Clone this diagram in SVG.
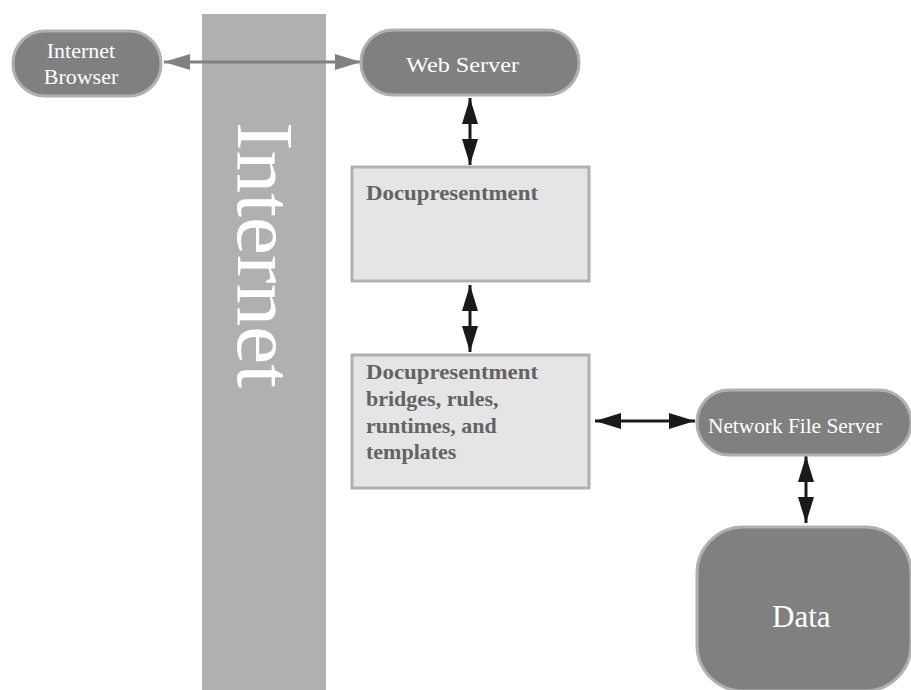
<svg xmlns="http://www.w3.org/2000/svg" width="911" height="690" viewBox="0 0 911 690">
<style>
text{font-family:"Liberation Serif","Times New Roman",serif}
.pill{fill:#808080;stroke:#b0b0b0;stroke-width:3}
.box{fill:#e5e5e5;stroke:#b0b0b0;stroke-width:3}
.w{fill:#fff;font-size:22px}
.d{fill:#636363;font-size:22px;font-weight:bold}
.k{stroke:#1a1a1a;stroke-width:3;fill:none;marker-start:url(#ka);marker-end:url(#ka)}
.g{stroke:#808080;stroke-width:3;fill:none;marker-start:url(#ga);marker-end:url(#ga)}
</style>
<defs>
<marker id="ka" markerUnits="userSpaceOnUse" viewBox="0 0 26 16" refX="26" refY="8" markerWidth="26" markerHeight="16" orient="auto-start-reverse"><path d="M0 0L26 8L0 16Z" fill="#1a1a1a"/></marker>
<marker id="ga" markerUnits="userSpaceOnUse" viewBox="0 0 26 16" refX="26" refY="8" markerWidth="26" markerHeight="16" orient="auto-start-reverse"><path d="M0 0L26 8L0 16Z" fill="#808080"/></marker>
</defs>
<g id="internet-band">
<rect x="202" y="14" width="124" height="676" fill="#b0b0b0"/>
<text transform="translate(238,122) rotate(90)" fill="#fff" font-size="80" textLength="266" lengthAdjust="spacingAndGlyphs">Internet</text>
</g>
<g id="connectors">
<path class="g" d="M164 62H361"/>
<path class="k" d="M470 98V165"/>
<path class="k" d="M470 285V352"/>
<path class="k" d="M595 421H695"/>
<path class="k" d="M806 456V523"/>
</g>
<g id="internet-browser">
<rect class="pill" x="13" y="31" width="148" height="65" rx="32"/>
<text class="w" x="81" y="58" text-anchor="middle">Internet</text>
<text class="w" x="81" y="84" text-anchor="middle">Browser</text>
</g>
<g id="web-server">
<rect class="pill" x="361" y="30" width="218" height="65" rx="32"/>
<text class="w" x="406" y="72" textLength="113" lengthAdjust="spacingAndGlyphs">Web Server</text>
</g>
<g id="docupresentment">
<rect class="box" x="352" y="167" width="237" height="114"/>
<text class="d" x="366" y="200" textLength="172" lengthAdjust="spacingAndGlyphs">Docupresentment</text>
</g>
<g id="bridges">
<rect class="box" x="352" y="355" width="237" height="133"/>
<text class="d" x="366" y="379" textLength="172" lengthAdjust="spacingAndGlyphs">Docupresentment</text>
<text class="d" x="366" y="406">bridges, rules,</text>
<text class="d" x="366" y="433">runtimes, and</text>
<text class="d" x="366" y="459">templates</text>
</g>
<g id="network-file-server">
<rect class="pill" x="697" y="390" width="214" height="65" rx="32"/>
<text class="w" x="708" y="433" textLength="174" lengthAdjust="spacingAndGlyphs">Network File Server</text>
</g>
<g id="data">
<rect class="pill" x="697" y="527" width="214" height="164" rx="46"/>
<text x="772" y="627" fill="#fff" font-size="31">Data</text>
</g>
</svg>
